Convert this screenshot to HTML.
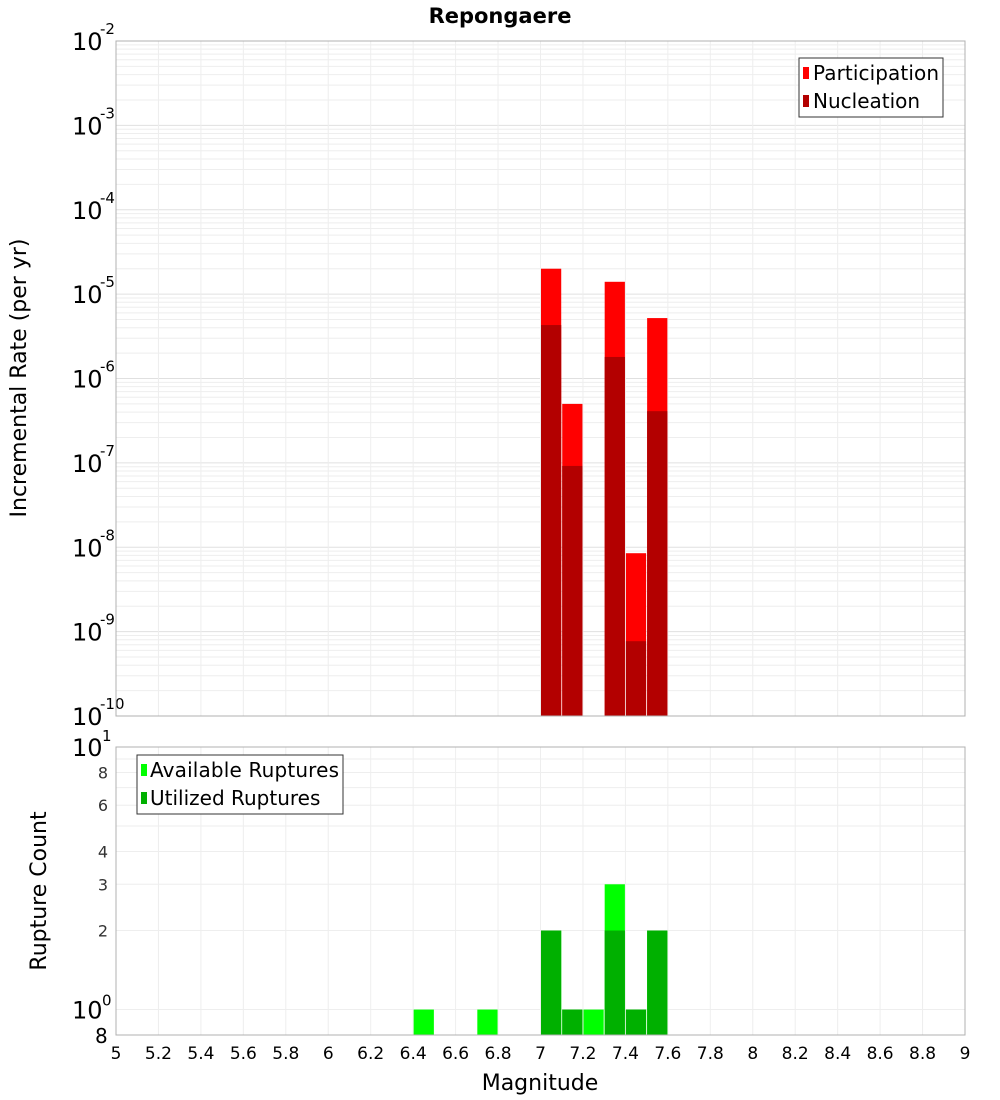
<!DOCTYPE html>
<html><head><meta charset="utf-8"><style>
body{margin:0;background:#fff}
svg{display:block;font-family:"DejaVu Sans","Liberation Sans",sans-serif}
</style></head><body>
<svg id="c" width="1000" height="1100" xmlns="http://www.w3.org/2000/svg">
<text x="500" y="23" text-anchor="middle" font-size="21" font-weight="bold">Repongaere</text>
<g id="topg"></g>
<g id="botg"></g>
<text transform="translate(26,378) rotate(-90)" text-anchor="middle" font-size="22">Incremental Rate (per yr)</text>
<text transform="translate(46,891) rotate(-90)" text-anchor="middle" font-size="22">Rupture Count</text>
<text x="540" y="1090" text-anchor="middle" font-size="22">Magnitude</text>
<g>
<rect x="799" y="58" width="144" height="59" fill="#fff" stroke="#333"/>
<rect x="803" y="67" width="6" height="12" fill="#ff0000"/>
<text x="813" y="80" font-size="20" textLength="126">Participation</text>
<rect x="803" y="95" width="6" height="12" fill="#b30000"/>
<text x="813" y="108" font-size="20">Nucleation</text>
</g>
<g>
<rect x="137" y="755" width="206" height="59" fill="#fff" stroke="#333"/>
<rect x="141" y="764" width="6" height="12" fill="#00ff00"/>
<text x="150" y="777" font-size="20" textLength="189">Available Ruptures</text>
<rect x="141" y="792" width="6" height="12" fill="#00b000"/>
<text x="150" y="805" font-size="20">Utilized Ruptures</text>
</g>
</svg>
<script>
const mags=[7.05,7.15,7.35,7.45,7.55];
const participation=[2e-5,5e-7,1.4e-5,8.5e-9,5.2e-6];
const nucleation=[4.3e-6,9.2e-8,1.8e-6,7.7e-10,4.1e-7];
const countMags=[6.45,6.75,7.05,7.15,7.25,7.35,7.45,7.55];
const available=[1,1,2,1,1,3,1,2];
const utilized=[0,0,2,1,0,2,1,2];
const xTicks=[5,5.2,5.4,5.6,5.8,6,6.2,6.4,6.6,6.8,7,7.2,7.4,7.6,7.8,8,8.2,8.4,8.6,8.8,9];
const countTicks=[2,3,4,6,8];
const NS="http://www.w3.org/2000/svg";
const L=116,R=965;
const x=m=>L+(m-5)/4*(R-L);
const T0=41,T1=716, yT=v=>T1-(Math.log10(v)+10)/8*(T1-T0);
const B0=747,B1=1035, yB=v=>B1-Math.log10(v/0.8)/Math.log10(12.5)*(B1-B0);
function el(p,tag,a,txt){const e=document.createElementNS(NS,tag);for(const k in a)e.setAttribute(k,a[k]);if(txt!==undefined)e.textContent=txt;p.appendChild(e);return e;}
const topG=document.getElementById('topg'),botG=document.getElementById('botg');
for(let d=-10;d<-2;d++)for(let k=1;k<10;k++){const y=yT(k*Math.pow(10,d));el(topG,'line',{x1:L,x2:R,y1:y,y2:y,stroke:k==1?'#e0e0e0':'#eeeeee','stroke-width':1});}
for(let k=1;k<=10;k++){const y=yB(k);if(y>=B0)el(botG,'line',{x1:L,x2:R,y1:y,y2:y,stroke:'#eeeeee','stroke-width':1});}
xTicks.forEach(t=>{const xx=x(t);el(topG,'line',{x1:xx,x2:xx,y1:T0,y2:T1,stroke:'#eeeeee'});el(botG,'line',{x1:xx,x2:xx,y1:B0,y2:B1,stroke:'#eeeeee'});
const lb=el(botG,'text',{x:xx,y:1059,'text-anchor':'middle','font-size':17},String(t));

});
for(let d=-10;d<=-2;d++){const y=yT(Math.pow(10,d));const t=el(topG,'text',{x:72,y:y+9,'font-size':24},'10');


el(topG,'text',{x:100,y:y-7,'font-size':15},String(d));}
countTicks.forEach(v=>{const y=yB(v);const t=el(botG,'text',{x:108,y:y+6,'text-anchor':'end','font-size':16,fill:'#333'},String(v));

});
el(botG,'text',{x:72,y:yB(10)+9,'font-size':24},'10');el(botG,'text',{x:102,y:yB(10)-6,'font-size':15},'1');
el(botG,'text',{x:72,y:yB(1)+9,'font-size':24},'10');el(botG,'text',{x:102,y:yB(1)-4,'font-size':15},'0');
el(botG,'text',{x:95,y:1043,'font-size':20},'8');
const bw=(x(5.1)-x(5));
mags.forEach((m,i)=>{const x0=x(m-0.05)+0.5,w=bw-1;
let r=el(topG,'rect',{x:x0,y:yT(participation[i]),width:w,height:T1-yT(participation[i]),fill:'#ff0000'});


r=el(topG,'rect',{x:x0,y:yT(nucleation[i]),width:w,height:T1-yT(nucleation[i]),fill:'#b30000'});

});
countMags.forEach((m,i)=>{const x0=x(m-0.05)+0.5,w=bw-1;
let r=el(botG,'rect',{x:x0,y:yB(available[i]),width:w,height:B1-yB(available[i]),fill:'#00ff00'});


if(utilized[i]>0){r=el(botG,'rect',{x:x0,y:yB(utilized[i]),width:w,height:B1-yB(utilized[i]),fill:'#00b000'});

}});
el(topG,'rect',{x:L,y:T0,width:R-L,height:T1-T0,fill:'none',stroke:'#b0b0b0'});
el(botG,'rect',{x:L,y:B0,width:R-L,height:B1-B0,fill:'none',stroke:'#b0b0b0'});
</script>
</body></html>
